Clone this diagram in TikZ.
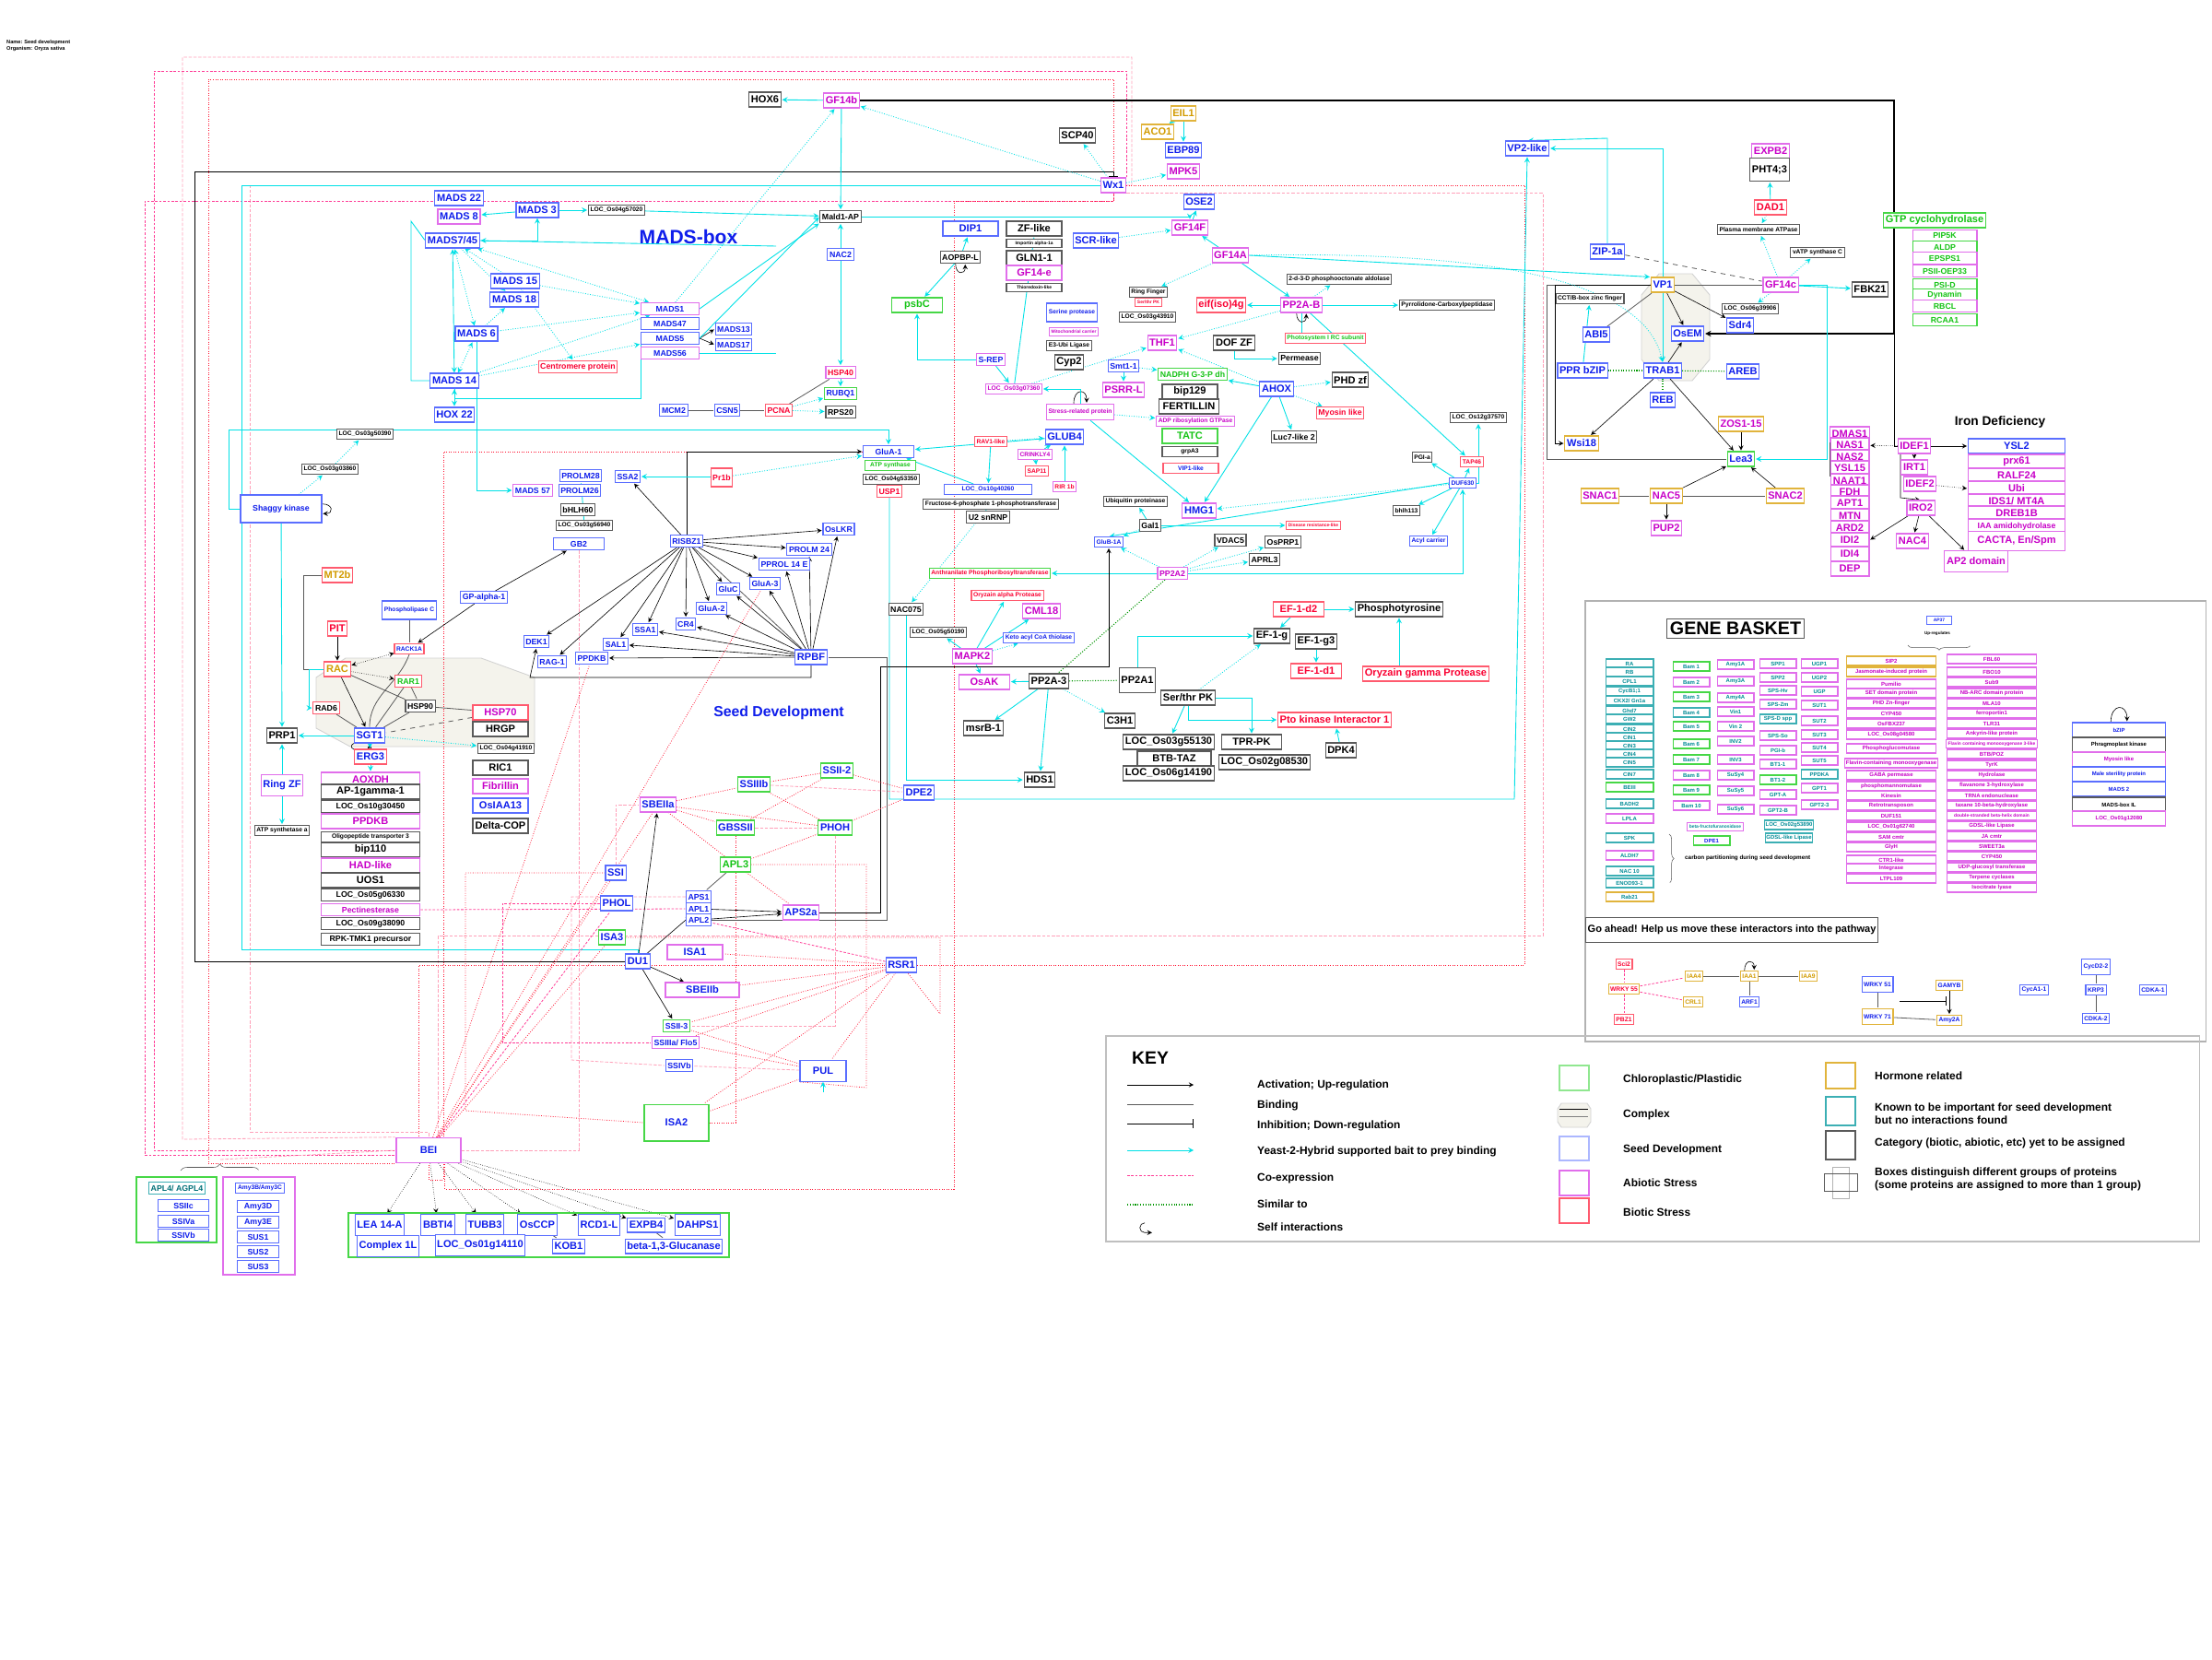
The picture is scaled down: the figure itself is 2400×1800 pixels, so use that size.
\documentclass[tikz,border=0pt]{standalone}
\usepackage{fontspec}
\setmainfont{Liberation Sans}
\usetikzlibrary{positioning,decorations.pathreplacing}
\pgfdeclarelayer{bg}
\pgfsetlayers{bg,main}
\definecolor{sdt}{RGB}{15,30,235}
\definecolor{sdb}{RGB}{90,110,255}
\definecolor{abt}{RGB}{200,0,200}
\definecolor{abb}{RGB}{225,110,235}
\definecolor{bit}{RGB}{250,0,50}
\definecolor{bib}{RGB}{255,90,110}
\definecolor{cht}{RGB}{20,195,20}
\definecolor{chb}{RGB}{70,215,70}
\definecolor{hrt}{RGB}{210,155,0}
\definecolor{hrb}{RGB}{225,180,60}
\definecolor{knt}{RGB}{0,140,150}
\definecolor{knb}{RGB}{60,175,180}
\definecolor{ukb}{RGB}{90,90,90}
\definecolor{cyn}{RGB}{0,225,230}
\definecolor{cor}{RGB}{255,20,50}
\definecolor{cop}{RGB}{255,60,150}
\definecolor{col}{RGB}{255,160,185}
\definecolor{grn}{RGB}{0,150,0}
\definecolor{cpx}{RGB}{244,243,236}

\begin{document}
\begin{tikzpicture}[-,>=stealth,shorten >=0.5pt,x=0.02cm,y=-0.02cm,
  box/.style={rectangle,draw,fill=white,inner sep=1.2pt,line width=0.6pt},
  seed/.style={box,draw=sdb,text=sdt},
  abio/.style={box,draw=abb,text=abt},
  bio/.style={box,draw=bib,text=bit},
  chl/.style={box,draw=chb,text=cht},
  horm/.style={box,draw=hrb,text=hrt},
  unk/.style={box,draw=ukb,text=black},
  known/.style={box,draw=knb,text=knt},
  fL/.style={font=\fontsize{6.3}{7}\selectfont\bfseries,minimum height=0.32cm},
  fM/.style={font=\fontsize{5}{6}\selectfont\bfseries,minimum height=0.26cm},
  fS/.style={font=\fontsize{3.8}{4.5}\selectfont\bfseries,minimum height=0.22cm},
  fT/.style={font=\fontsize{2.8}{3.4}\selectfont\bfseries,minimum height=0.18cm},
  gb/.style={font=\fontsize{3.4}{4}\selectfont\bfseries,minimum height=0.2cm,inner sep=0.6pt},
  title/.style={font=\fontsize{#1}{#1}\selectfont\bfseries},
  y2h/.style={->,draw=cyn,line width=0.5pt},
  y2hd/.style={y2h,densely dotted},
  act/.style={->,draw=black,line width=0.35pt},
  inh/.style={-|,draw=black,line width=0.5pt},
  bind/.style={draw=gray!70!black,line width=0.45pt},
  coex/.style={draw=cor,densely dotted,line width=0.45pt},
  coexp/.style={draw=cop,dash pattern=on 1.5pt off 1pt,line width=0.45pt},
  coexl/.style={draw=col,dash pattern=on 2pt off 1pt,line width=0.45pt},
  simil/.style={draw=grn,densely dotted,line width=0.6pt},
  cplx/.style={fill=cpx,draw=gray!35,line width=0.5pt}]

\useasboundingbox (0,0) rectangle (2400,1800);
\begin{pgfonlayer}{bg}
\fill[white] (0,0) rectangle (2400,1800);
% complexes
\fill[cplx] (343,735) -- (375,714) -- (522,714) -- (580,735) -- (580,810) -- (380,810) -- (343,790) -- cycle;
\fill[cplx] (1800,297) -- (1836,297) -- (1855,320) -- (1855,390) -- (1836,413) -- (1800,413) -- (1781,390) -- (1781,320) -- cycle;
\end{pgfonlayer}

\node[anchor=west,align=left,font=\fontsize{3.2}{4}\selectfont\bfseries] (name) at (1,50) {Name: Seed development\\Organism: Oryza sativa};

% MADS-box
\node[title=12,text=sdt] (madstitle) at (747,257) {MADS-box};
\node[seed,fL] (m22) at (498,215) {MADS 22};
\node[seed,fL,draw=abb] (m8) at (498,235) {MADS 8};
\node[seed,fL] (m3) at (583,228) {MADS 3};
\node[unk,fS] (l57020) at (669,228) {LOC\_Os04g57020};
\node[seed,fL,minimum width=1.1cm] (m745) at (491,261) {MADS7/45};
\node[seed,fL] (m15) at (559,305) {MADS 15};
\node[seed,fL] (m18) at (558,325) {MADS 18};
\node[seed,fL] (m6) at (517,362) {MADS 6};
\node[seed,fM,minimum width=1.26cm,draw=abb] (m1) at (727,335) {MADS1};
\node[seed,fM,minimum width=1.26cm] (m47) at (727,351) {MADS47};
\node[seed,fM,minimum width=1.26cm] (m5) at (727,367) {MADS5};
\node[seed,fM,minimum width=1.26cm,draw=abb] (m56) at (727,383) {MADS56};
\node[seed,fM] (m13) at (796,357) {MADS13};
\node[seed,fM] (m17) at (796,374) {MADS17};
\node[bio,fM] (cent) at (627,398) {Centromere protein};
\node[seed,fL] (m14) at (493,413) {MADS 14};
\node[seed,fL] (hox22) at (493,450) {HOX 22};
\node[seed,fM] (mcm2) at (731,445) {MCM2};
\node[seed,fM] (csn5) at (789,445) {CSN5};
\node[bio,fM] (pcna) at (845,445) {PCNA};

% top centre
\node[unk,fL] (hox6) at (830,108) {HOX6};
\node[abio,fL] (gf14b) at (913,109) {GF14b};
\node[unk,fL] (scp40) at (1169,147) {SCP40};
\node[horm,fL] (eil1) at (1284,123) {EIL1};
\node[horm,fL] (aco1) at (1256,143) {ACO1};
\node[seed,fL] (ebp89) at (1284,163) {EBP89};
\node[abio,fL] (mpk5) at (1284,186) {MPK5};
\node[seed,fL,draw=abb] (wx1) at (1208,201) {Wx1};
\node[seed,fL] (ose2) at (1301,219) {OSE2};
\node[unk,fM] (mald) at (912,235) {Mald1-AP};
\node[seed,fM] (nac2) at (912,276) {NAC2};
\node[bio,fM,draw=abb] (hsp40) at (912,404) {HSP40};
\node[seed,fM,draw=chb] (rubq1) at (912,427) {RUBQ1};
\node[unk,fM] (rps20) at (912,447) {RPS20};
\node[seed,fL,minimum width=1.2cm] (dip1) at (1053,248) {DIP1};
\node[unk,fL,minimum width=1.2cm] (zf) at (1122,248) {ZF-like};
\node[unk,fT,minimum width=1.2cm] (impa) at (1122,264) {Importin alpha-1a};
\node[unk,fL,minimum width=1.2cm] (gln) at (1122,280) {GLN1-1};
\node[abio,fL,minimum width=1.2cm] (gf14e) at (1122,296) {GF14-e};
\node[unk,fT,minimum width=1.2cm] (thio) at (1122,312) {Thioredoxin-like};
\node[seed,fL] (scr) at (1189,261) {SCR-like};
\node[abio,fL] (gf14f) at (1291,247) {GF14F};
\node[unk,fM] (aopbp) at (1042,279) {AOPBP-L};
\node[abio,fL] (gf14a) at (1335,277) {GF14A};
\node[unk,fS] (kdo) at (1453,303) {2-d-3-D phosphooctonate aldolase};
\node[unk,fS] (ringf) at (1246,317) {Ring Finger};
\node[bio,fT] (stpk) at (1246,328) {Ser/thr PK};
\node[unk,fS] (l43910) at (1245,344) {LOC\_Os03g43910};
\node[bio,fL] (eif) at (1325,331) {eif(iso)4g};
\node[abio,fL] (pp2ab) at (1412,331) {PP2A-B};
\node[unk,fS] (pyr) at (1570,331) {Pyrrolidone-Carboxylpeptidase};
\node[chl,fL,minimum width=1.1cm] (psbc) at (995,331) {psbC};
\node[seed,fS,minimum height=0.4cm] (serp) at (1163,339) {Serine protease};
\node[abio,fT] (mito) at (1165,360) {Mitochondrial carrier};
\node[unk,fS] (e3) at (1160,375) {E3-Ubi Ligase};
\node[abio,fL] (thf1) at (1261,372) {THF1};
\node[unk,fL] (dof) at (1339,372) {DOF ZF};
\node[chl,fS,draw=bib] (psi) at (1438,367) {Photosystem I RC subunit};
\node[unk,fM] (perm) at (1410,389) {Permease};
\node[seed,fM,draw=abb] (srep) at (1075,390) {S-REP};
\node[unk,fL] (cyp2) at (1160,393) {Cyp2};
\node[seed,fM] (smt) at (1219,397) {Smt1-1};
\node[chl,fM] (nadph) at (1294,406) {NADPH G-3-P dh};
\node[unk,fL,minimum width=1.2cm] (bip129) at (1291,425) {bip129};
\node[seed,fL] (ahox) at (1385,422) {AHOX};
\node[unk,fL] (phdzf) at (1465,412) {PHD zf};
\node[abio,fS] (l07360) at (1100,422) {LOC\_Os03g07360};
\node[abio,fL] (psrr) at (1219,423) {PSRR-L};
\node[unk,fL,minimum width=1.3cm] (fert) at (1290,441) {FERTILLIN};
\node[abio,fS,minimum height=0.35cm] (stress) at (1172,447) {Stress-related protein};
\node[abio,fS] (adp) at (1297,457) {ADP ribosylation GTPase};
\node[bio,fM] (myo) at (1454,448) {Myosin like};
\node[unk,fS] (l37570) at (1604,453) {LOC\_Os12g37570};
\node[seed,fL] (glub4) at (1155,474) {GLUB4};
\node[bio,fS] (rav1) at (1075,479) {RAV1-like};
\node[chl,fL,minimum width=1.2cm] (tatc) at (1291,473) {TATC};
\node[unk,fM] (luc7) at (1404,474) {Luc7-like 2};
\node[seed,fM,minimum width=1.1cm] (glua1) at (964,490) {GluA-1};
\node[abio,fS] (crinkly) at (1123,493) {CRINKLY4};
\node[unk,fS,minimum width=1.2cm] (grpa3) at (1291,490) {grpA3};
\node[unk,fS] (pgia) at (1543,496) {PGI-a};
\node[bio,fS] (tap46) at (1597,501) {TAP46};
\node[chl,fS,minimum width=1.1cm] (atps) at (966,505) {ATP synthase};
\node[bio,fS] (sap11) at (1125,511) {SAP11};
\node[seed,fS,minimum width=1.2cm,draw=bib] (vip1) at (1292,508) {VIP1-like};
\node[unk,fS] (l53350) at (967,520) {LOC\_Os04g53350};
\node[seed,fS] (duf630) at (1587,524) {DUF630};
\node[seed,fS,minimum width=1.9cm] (l40260) at (1072,531) {LOC\_Os10g40260};
\node[bio,fS,draw=abb] (rir1b) at (1155,528) {RIR 1b};
\node[bio,fM] (usp1) at (965,533) {USP1};
\node[unk,fS] (fru) at (1075,547) {Fructose-6-phosphate 1-phosphotransferase};
\node[unk,fS] (ubiq) at (1232,544) {Ubiquitin proteinase};
\node[seed,fL,draw=abb] (hmg1) at (1301,554) {HMG1};
\node[unk,fS] (bhlh113) at (1526,554) {bhlh113};
\node[unk,fM] (u2) at (1072,561) {U2 snRNP};
\node[unk,fM] (gal1) at (1248,570) {Gal1};
\node[bio,fT] (disr) at (1425,570) {Disease resistance-like};
\node[seed,fS] (glub1a) at (1203,588) {GluB-1A};
\node[unk,fM] (vdac5) at (1335,586) {VDAC5};
\node[unk,fM] (osprp1) at (1392,588) {OsPRP1};
\node[seed,fS] (acyl) at (1550,587) {Acyl carrier};
\node[unk,fM] (aprl3) at (1372,607) {APRL3};
\node[bio,fS,draw=chb] (anth) at (1074,622) {Anthranilate Phosphoribosyltransferase};
\node[abio,fM] (pp2a2) at (1272,622) {PP2A2};
\node[bio,fS] (oryza) at (1093,646) {Oryzain alpha Protease};
\node[unk,fM] (nac075) at (983,661) {NAC075};
\node[abio,fL] (cml18) at (1130,663) {CML18};
\node[bio,fL,minimum width=1.1cm] (efd2) at (1409,661) {EF-1-d2};
\node[unk,fL] (ptyr) at (1518,661) {Phosphotyrosine};
\node[unk,fS] (l50190) at (1018,686) {LOC\_Os05g50190};
\node[unk,fL] (efg) at (1380,690) {EF-1-g};
\node[seed,fS] (keto) at (1127,692) {Keto acyl CoA thiolase};
\node[unk,fL] (efg3) at (1428,696) {EF-1-g3};
\node[abio,fL] (mapk2) at (1055,712) {MAPK2};
\node[bio,fL,minimum width=1.1cm] (efd1) at (1428,728) {EF-1-d1};
\node[bio,fL] (oryg) at (1547,731) {Oryzain gamma Protease};
\node[abio,fL,minimum width=1.1cm] (osak) at (1068,740) {OsAK};
\node[unk,fL] (pp2a3) at (1138,739) {PP2A-3};
\node[unk,fL,minimum height=0.55cm] (pp2a1) at (1234,738) {PP2A1};
\node[unk,fL] (stpk2) at (1289,757) {Ser/thr PK};
\node[bio,fL] (pto) at (1448,781) {Pto kinase Interactor 1};
\node[unk,fL] (c3h1) at (1215,782) {C3H1};
\node[unk,fL] (msrb) at (1067,790) {msrB-1};
\node[unk,fL] (l55130) at (1268,805) {LOC\_Os03g55130};
\node[unk,fL,minimum width=1.3cm] (tpr) at (1358,805) {TPR-PK};
\node[unk,fL] (dpk4) at (1455,814) {DPK4};
\node[unk,fL,minimum width=1.6cm] (btb) at (1274,823) {BTB-TAZ};
\node[unk,fL] (l08530) at (1372,827) {LOC\_Os02g08530};
\node[unk,fL] (l14190) at (1268,839) {LOC\_Os06g14190};
\node[unk,fL] (hds1) at (1128,846) {HDS1};

% left
\node[unk,fS] (l50390) at (396,471) {LOC\_Os03g50390};
\node[unk,fS] (l03860) at (358,509) {LOC\_Os03g03860};
\node[seed,fM,minimum width=1.76cm,minimum height=0.6cm] (shaggy) at (305,552) {Shaggy kinase};
\node[seed,fM] (prolm28) at (630,516) {PROLM28};
\node[seed,fM] (ssa2) at (681,517) {SSA2};
\node[seed,fM,draw=abb] (mads57) at (578,532) {MADS 57};
\node[seed,fM] (prolm26) at (629,532) {PROLM26};
\node[unk,fM] (bhlh60) at (627,553) {bHLH60};
\node[unk,fS] (l56940) at (634,570) {LOC\_Os03g56940};
\node[seed,fM,minimum width=1.1cm] (gb2) at (628,590) {GB2};
\node[bio,fM,minimum height=0.4cm] (pr1b) at (783,518) {Pr1b};
\node[seed,fM] (risbz) at (745,587) {RISBZ1};
\node[seed,fM] (oslkr) at (910,574) {OsLKR};
\node[seed,fM] (prolm24) at (878,596) {PROLM 24};
\node[seed,fM] (pprol) at (851,612) {PPROL 14 E};
\node[horm,fL,draw=bib] (mt2b) at (366,624) {MT2b};
\node[seed,fM] (glua3) at (830,633) {GluA-3};
\node[seed,fM] (gluc) at (790,639) {GluC};
\node[seed,fM] (gpa1) at (525,648) {GP-alpha-1};
\node[seed,fM] (glua2) at (772,660) {GluA-2};
\node[seed,fS,minimum height=0.4cm] (phosc) at (444,662) {Phospholipase C};
\node[seed,fM] (cr4) at (744,677) {CR4};
\node[bio,fL] (pit) at (366,682) {PIT};
\node[seed,fM] (ssa1) at (700,683) {SSA1};
\node[seed,fM] (dek1) at (582,696) {DEK1};
\node[seed,fM] (sal1) at (668,699) {SAL1};
\node[seed,fS,draw=bib] (rack) at (444,704) {RACK1A};
\node[seed,fL] (rpbf) at (880,713) {RPBF};
\node[seed,fM] (rag1) at (599,718) {RAG-1};
\node[seed,fM] (ppdkb1) at (642,714) {PPDKB};
\node[horm,fL,draw=bib] (rac) at (366,726) {RAC};
\node[chl,fM,draw=bib] (rar1) at (443,739) {RAR1};
\node[unk,fM,draw=bib] (rad6) at (354,768) {RAD6};
\node[unk,fM] (hsp90) at (456,766) {HSP90};
\node[abio,fL,draw=bib,minimum width=1.2cm] (hsp70) at (543,773) {HSP70};
\node[title=9,text=sdt] (sdtitle) at (845,773) {Seed Development};
\node[unk,fL,minimum width=1.2cm] (hrgp) at (543,791) {HRGP};
\node[unk,fL] (prp1) at (306,798) {PRP1};
\node[seed,fL] (sgt1) at (401,798) {SGT1};
\node[unk,fS] (l41910) at (549,812) {LOC\_Os04g41910};
\node[seed,fL,draw=bib] (erg3) at (402,821) {ERG3};
\node[unk,fL,minimum width=1.2cm] (ric1) at (543,833) {RIC1};
\node[abio,fL,minimum width=2.15cm] (aoxdh) at (402,846) {AOXDH};
\node[abio,fL,minimum width=1.2cm] (fib) at (543,853) {Fibrillin};
\node[seed,fL,draw=abb,minimum height=0.45cm] (ringzf) at (306,852) {Ring ZF};
\node[unk,fL,minimum width=2.15cm] (ap1) at (402,859) {AP-1gamma-1};
\node[seed,fL,minimum width=1.2cm] (osiaa) at (543,874) {OsIAA13};
\node[unk,fM,minimum width=2.15cm] (l30450) at (402,875) {LOC\_Os10g30450};
\node[abio,fL,minimum width=2.15cm] (ppdkb2) at (402,891) {PPDKB};
\node[unk,fL,minimum width=1.2cm] (dcop) at (543,896) {Delta-COP};
\node[unk,fS] (atpa) at (306,901) {ATP synthetase a};
\node[unk,fS,minimum width=2.15cm] (oligo) at (402,908) {Oligopeptide transporter 3};
\node[unk,fL,minimum width=2.15cm] (bip110) at (402,922) {bip110};
\node[abio,fL,minimum width=2.15cm] (had) at (402,939) {HAD-like};
\node[unk,fL,minimum width=2.15cm] (uos1) at (402,955) {UOS1};
\node[unk,fM,minimum width=2.15cm] (l06330) at (402,971) {LOC\_Os05g06330};
\node[abio,fM,minimum width=2.15cm] (pect) at (402,987) {Pectinesterase};
\node[unk,fM,minimum width=2.15cm] (l38090) at (402,1002) {LOC\_Os09g38090};
\node[unk,fM,minimum width=2.15cm] (rpk) at (402,1019) {RPK-TMK1 precursor};

% starch
\node[seed,fL,draw=chb] (ssii2) at (908,836) {SSII-2};
\node[seed,fL,draw=chb] (ssiiib) at (818,851) {SSIIIb};
\node[seed,fL] (dpe2) at (997,860) {DPE2};
\node[seed,fL,draw=abb] (sbeiia) at (714,873) {SBEIIa};
\node[seed,fL,draw=chb] (gbssii) at (798,898) {GBSSII};
\node[seed,fL,draw=chb] (phoh) at (906,898) {PHOH};
\node[chl,fL] (apl3) at (798,938) {APL3};
\node[seed,fL] (ssi) at (668,947) {SSI};
\node[seed,fM] (aps1) at (758,973) {APS1};
\node[seed,fL] (phol) at (669,980) {PHOL};
\node[seed,fM] (apl1) at (758,986) {APL1};
\node[seed,fL,draw=abb] (aps2a) at (869,990) {APS2a};
\node[seed,fM] (apl2) at (758,998) {APL2};
\node[seed,fL,draw=chb] (isa3) at (664,1017) {ISA3};
\node[seed,fL,draw=abb,minimum width=1.2cm] (isa1) at (754,1033) {ISA1};
\node[seed,fL] (du1) at (692,1043) {DU1};
\node[seed,fL] (rsr1) at (978,1047) {RSR1};
\node[seed,fL,draw=abb,minimum width=1.6cm] (sbeiib) at (762,1074) {SBEIIb};
\node[seed,fM,draw=chb] (ssii3) at (734,1113) {SSII-3};
\node[seed,fM,draw=abb] (ssiiia) at (733,1131) {SSIIIa/ Flo5};
\node[seed,fM] (ssivb) at (737,1156) {SSIVb};
\node[seed,fL,minimum width=1.0cm,minimum height=0.45cm] (pul) at (893,1162) {PUL};
\node[seed,fL,draw=chb,minimum width=1.4cm,minimum height=0.8cm] (isa2) at (734,1218) {ISA2};
\node[seed,fL,draw=abb,minimum width=1.4cm,minimum height=0.55cm] (bei) at (465,1248) {BEI};

% bottom left groups
\draw[chb,line width=0.6pt] (148,1277) rectangle (235,1348);
\draw[abb,line width=0.6pt] (242,1277) rectangle (320,1383);
\draw[chb,line width=0.6pt] (378,1316) rectangle (791,1364);
\node[known,fM,text=knt!80!black] (apl4) at (192,1289) {APL4/ AGPL4};
\node[seed,fM,minimum width=1.1cm] (ssiic) at (199,1308) {SSIIc};
\node[seed,fM,minimum width=1.1cm] (ssiva) at (199,1325) {SSIVa};
\node[seed,fM,minimum width=1.1cm] (ssivb2) at (199,1340) {SSIVb};
\node[seed,fS] (amy3b) at (282,1289) {Amy3B/Amy3C};
\node[seed,fM,minimum width=0.9cm] (amy3d) at (280,1309) {Amy3D};
\node[seed,fM,minimum width=0.9cm] (amy3e) at (280,1326) {Amy3E};
\node[seed,fM,minimum width=0.9cm] (sus1) at (280,1342) {SUS1};
\node[seed,fM,minimum width=0.9cm] (sus2) at (280,1358) {SUS2};
\node[seed,fM,minimum width=0.9cm] (sus3) at (280,1374) {SUS3};
\node[seed,fL,minimum height=0.45cm] (lea14) at (412,1329) {LEA 14-A};
\node[seed,fL,minimum height=0.45cm] (bbti4) at (475,1329) {BBTI4};
\node[seed,fL,minimum height=0.45cm] (tubb3) at (526,1329) {TUBB3};
\node[seed,fL,minimum height=0.45cm] (osccp) at (583,1329) {OsCCP};
\node[seed,fL,minimum height=0.45cm] (rcd1) at (650,1329) {RCD1-L};
\node[seed,fL] (expb4) at (701,1329) {EXPB4};
\node[seed,fL,minimum height=0.45cm] (dahps1) at (757,1329) {DAHPS1};
\node[seed,fL,minimum height=0.45cm] (cplx1l) at (421,1352) {Complex 1L};
\node[seed,fL,minimum height=0.45cm] (l14110) at (521,1351) {LOC\_Os01g14110};
\node[seed,fL] (kob1) at (617,1352) {KOB1};
\node[seed,fL] (glucan) at (731,1352) {beta-1,3-Glucanase};

% right
\node[seed,fL] (vp2) at (1657,161) {VP2-like};
\node[abio,fL] (expb2) at (1921,164) {EXPB2};
\node[unk,fL,minimum height=0.5cm] (pht) at (1920,184) {PHT4;3};
\node[bio,fL] (dad1) at (1921,225) {DAD1};
\node[unk,fS] (pmatp) at (1908,249) {Plasma membrane ATPase};
\node[chl,fL] (gtp) at (2099,239) {GTP cyclohydrolase};
\node[chl,fM,minimum width=1.4cm,draw=abb] (pip5k) at (2110,256) {PIP5K};
\node[chl,fM,minimum width=1.4cm] (aldp) at (2110,268) {ALDP};
\node[chl,fM,minimum width=1.4cm,draw=abb] (epsps) at (2110,280) {EPSPS1};
\node[chl,fM,minimum width=1.4cm,draw=abb] (psii) at (2110,294) {PSII-OEP33};
\node[chl,fM,minimum width=1.4cm] (psid) at (2110,309) {PSI-D};
\node[chl,fM,minimum width=1.4cm] (dyn) at (2110,320) {Dynamin};
\node[chl,fM,minimum width=1.4cm,draw=abb] (rbcl) at (2110,332) {RBCL};
\node[chl,fM,minimum width=1.4cm] (rcaa) at (2110,347) {RCAA1};
\node[unk,fS] (vatp) at (1972,274) {vATP synthase C};
\node[seed,fL] (zip) at (1744,273) {ZIP-1a};
\node[seed,fL,draw=hrb] (vp1) at (1804,309) {VP1};
\node[abio,fL] (gf14c) at (1932,309) {GF14c};
\node[unk,fL] (fbk21) at (2029,314) {FBK21};
\node[unk,fS] (cct) at (1725,324) {CCT/B-box zinc finger};
\node[unk,fS] (l39906) at (1899,335) {LOC\_Os06g39906};
\node[seed,fL] (sdr4) at (1888,353) {Sdr4};
\node[seed,fL] (abi5) at (1732,363) {ABI5};
\node[seed,fL] (osem) at (1831,362) {OsEM};
\node[seed,fL] (pprbzip) at (1717,402) {PPR bZIP};
\node[seed,fL] (trab1) at (1804,402) {TRAB1};
\node[seed,fL] (areb) at (1891,403) {AREB};
\node[seed,fL] (reb) at (1804,434) {REB};
\node[title=7.8] (irontitle) at (2170,458) {Iron Deficiency};
\node[abio,fL,draw=hrb] (zos) at (1889,460) {ZOS1-15};
\node[seed,fL,draw=hrb] (wsi18) at (1716,481) {Wsi18};
\node[seed,fL,draw=chb] (lea3) at (1889,498) {Lea3};
\node[abio,fL,draw=hrb] (snac1) at (1736,538) {SNAC1};
\node[abio,fL,draw=hrb] (nac5) at (1808,538) {NAC5};
\node[abio,fL,draw=hrb] (snac2) at (1937,538) {SNAC2};
\node[abio,fL] (pup2) at (1808,573) {PUP2};
\node[abio,fL,minimum width=0.84cm] (dmas1) at (2007,471) {DMAS1};
\node[abio,fL,minimum width=0.84cm] (nas1) at (2007,483) {NAS1};
\node[abio,fL,minimum width=0.84cm] (nas2) at (2007,496) {NAS2};
\node[abio,fL,minimum width=0.84cm] (ysl15) at (2007,508) {YSL15};
\node[abio,fL,minimum width=0.84cm] (naat1) at (2007,522) {NAAT1};
\node[abio,fL,minimum width=0.84cm] (fdh) at (2007,534) {FDH};
\node[abio,fL,minimum width=0.84cm] (apt1) at (2007,546) {APT1};
\node[abio,fL,minimum width=0.84cm] (mtn) at (2007,560) {MTN};
\node[abio,fL,minimum width=0.84cm] (ard2) at (2007,573) {ARD2};
\node[abio,fL,minimum width=0.84cm] (idi2) at (2007,586) {IDI2};
\node[abio,fL,minimum width=0.84cm] (idi4) at (2007,601) {IDI4};
\node[abio,fL,minimum width=0.84cm] (dep) at (2007,617) {DEP};
\node[abio,fL] (idef1) at (2077,484) {IDEF1};
\node[abio,fL] (irt1) at (2077,507) {IRT1};
\node[abio,fL] (idef2) at (2083,525) {IDEF2};
\node[abio,fL] (iro2) at (2084,551) {IRO2};
\node[abio,fL] (nac4) at (2075,587) {NAC4};
\node[abio,fL,minimum height=0.45cm] (ap2) at (2144,609) {AP2 domain};
\node[seed,fL,minimum width=2.1cm] (ysl2) at (2188,484) {YSL2};
\node[abio,fL,minimum width=2.1cm] (prx61) at (2188,501) {prx61};
\node[abio,fL,minimum width=2.1cm] (ralf24) at (2188,516) {RALF24};
\node[abio,fL,minimum width=2.1cm] (ubi) at (2188,530) {Ubi};
\node[abio,fL,minimum width=2.1cm] (ids1) at (2188,544) {IDS1/ MT4A};
\node[abio,fL,minimum width=2.1cm] (dreb) at (2188,557) {DREB1B};
\node[abio,fM,minimum width=2.1cm,minimum height=0.32cm] (iaaamid) at (2188,571) {IAA amidohydrolase};
\node[abio,fL,minimum width=2.1cm,minimum height=0.42cm] (cacta) at (2188,587) {CACTA, En/Spm};

% gene basket
\draw[gray!60,line width=0.6pt] (1720,652) rectangle (2393,1130);
\node[unk,title=11.2,inner sep=2pt] (gbtitle) at (1883,682) {GENE BASKET};
\node[seed,fT,minimum width=0.55cm] (ap37) at (2104,673) {AP37};
\node[font=\fontsize{2.6}{3}\selectfont\bfseries] (upreg) at (2102,687) {Up-regulates};
\draw[decorate,decoration={brace,amplitude=3pt,mirror},gray!70!black,line width=0.3pt] (2070,700) -- (2138,700);
\node[known,gb,minimum width=1.04cm] (b1) at (1768,720) {RA};
\node[known,gb,minimum width=1.04cm] (b2) at (1768,729) {RB};
\node[known,gb,minimum width=1.04cm] (b3) at (1768,739) {CPL1};
\node[known,gb,minimum width=1.04cm] (b4) at (1768,750) {CycB1;1};
\node[known,gb,minimum width=1.04cm] (b5) at (1768,760) {CKX2/ Gn1a};
\node[known,gb,minimum width=1.04cm] (b6) at (1768,771) {Ghd7};
\node[known,gb,minimum width=1.04cm] (b7) at (1768,780) {GW2};
\node[known,gb,minimum width=1.04cm] (b8) at (1768,791) {CIN2};
\node[known,gb,minimum width=1.04cm] (b9) at (1768,800) {CIN1};
\node[known,gb,minimum width=1.04cm] (b10) at (1768,809) {CIN3};
\node[known,gb,minimum width=1.04cm] (b11) at (1768,818) {CIN4};
\node[known,gb,minimum width=1.04cm] (b12) at (1768,827) {CIN5};
\node[known,gb,minimum width=1.04cm] (b13) at (1768,840) {CIN7};
\node[known,gb,minimum width=1.04cm,draw=chb] (b14) at (1768,854) {BEIII};
\node[known,gb,minimum width=1.04cm] (b15) at (1768,872) {BADH2};
\node[known,gb,minimum width=1.04cm,draw=abb] (b16) at (1768,888) {LPLA};
\node[known,gb,minimum width=1.04cm] (b17) at (1768,909) {SPK};
\node[known,gb,minimum width=1.04cm,draw=abb] (b18) at (1768,928) {ALDH7};
\node[known,gb,minimum width=1.04cm] (b19) at (1768,945) {NAC 10};
\node[known,gb,minimum width=1.04cm] (b20) at (1768,958) {ENOD93-1};
\node[known,gb,minimum width=1.04cm,draw=hrb] (b21) at (1768,973) {Rab21};
\node[known,gb,minimum width=0.8cm,draw=chb] (c1) at (1835,723) {Bam 1};
\node[known,gb,minimum width=0.8cm,draw=abb] (c2) at (1835,740) {Bam 2};
\node[known,gb,minimum width=0.8cm,draw=chb] (c3) at (1835,756) {Bam 3};
\node[known,gb,minimum width=0.8cm] (c4) at (1835,773) {Bam 4};
\node[known,gb,minimum width=0.8cm,draw=chb] (c5) at (1835,788) {Bam 5};
\node[known,gb,minimum width=0.8cm,draw=chb] (c6) at (1835,807) {Bam 6};
\node[known,gb,minimum width=0.8cm,draw=chb] (c7) at (1835,824) {Bam 7};
\node[known,gb,minimum width=0.8cm,draw=abb] (c8) at (1835,841) {Bam 8};
\node[known,gb,minimum width=0.8cm,draw=chb] (c9) at (1835,857) {Bam 9};
\node[known,gb,minimum width=0.8cm,draw=abb] (c10) at (1835,874) {Bam 10};
\node[known,gb,minimum width=0.8cm,draw=abb] (d1) at (1883,721) {Amy1A};
\node[known,gb,minimum width=0.8cm,draw=abb] (d2) at (1883,739) {Amy3A};
\node[known,gb,minimum width=0.8cm,draw=abb] (d3) at (1883,757) {Amy4A};
\node[known,gb,minimum width=0.8cm,draw=abb] (d4) at (1883,772) {Vin1};
\node[known,gb,minimum width=0.8cm,draw=abb] (d5) at (1883,788) {Vin 2};
\node[known,gb,minimum width=0.8cm,draw=abb] (d6) at (1883,804) {INV2};
\node[known,gb,minimum width=0.8cm,draw=abb] (d7) at (1883,824) {INV3};
\node[known,gb,minimum width=0.8cm,draw=abb] (d8) at (1883,841) {SuSy4};
\node[known,gb,minimum width=0.8cm,draw=abb] (d9) at (1883,858) {SuSy5};
\node[known,gb,minimum width=0.8cm,draw=abb] (d10) at (1883,878) {SuSy6};
\node[known,gb,minimum width=0.8cm,draw=abb] (e1) at (1929,720) {SPP1};
\node[known,gb,minimum width=0.8cm,draw=abb] (e2) at (1929,735) {SPP2};
\node[known,gb,minimum width=0.8cm,draw=abb] (e3) at (1929,749) {SPS-Hv};
\node[known,gb,minimum width=0.8cm,draw=abb] (e4) at (1929,764) {SPS-Zm};
\node[known,gb,minimum width=0.8cm] (e5) at (1929,780) {SPS-D spp};
\node[known,gb,minimum width=0.8cm,draw=abb] (e6) at (1929,798) {SPS-So};
\node[known,gb,minimum width=0.8cm,draw=abb] (e7) at (1929,814) {PGI-b};
\node[known,gb,minimum width=0.8cm,draw=abb] (e8) at (1929,829) {BT1-1};
\node[known,gb,minimum width=0.8cm,draw=chb] (e9) at (1929,846) {BT1-2};
\node[known,gb,minimum width=0.8cm,draw=abb] (e10) at (1929,862) {GPT-A};
\node[known,gb,minimum width=0.8cm,draw=abb] (e11) at (1929,879) {GPT2-B};
\node[known,gb,minimum width=0.8cm,draw=abb] (f1) at (1974,720) {UGP1};
\node[known,gb,minimum width=0.8cm,draw=abb] (f2) at (1974,735) {UGP2};
\node[known,gb,minimum width=0.8cm,draw=abb] (f3) at (1974,750) {UGP};
\node[known,gb,minimum width=0.8cm,draw=abb] (f4) at (1974,765) {SUT1};
\node[known,gb,minimum width=0.8cm,draw=abb] (f5) at (1974,782) {SUT2};
\node[known,gb,minimum width=0.8cm,draw=abb] (f6) at (1974,797) {SUT3};
\node[known,gb,minimum width=0.8cm,draw=abb] (f7) at (1974,811) {SUT4};
\node[known,gb,minimum width=0.8cm,draw=abb] (f8) at (1974,825) {SUT5};
\node[known,gb,minimum width=0.8cm] (f9) at (1974,840) {PPDKA};
\node[known,gb,minimum width=0.8cm,draw=abb] (f10) at (1974,855) {GPT1};
\node[known,gb,minimum width=0.8cm,draw=abb] (f11) at (1974,873) {GPT2-3};
\node[known,fT,draw=abb] (bfruc) at (1861,897) {beta-fructofuranosidase};
\node[seed,gb,minimum width=0.8cm,draw=chb] (dpe1) at (1857,912) {DPE1};
\node[known,gb] (l53890) at (1941,895) {LOC\_Os02g53890};
\node[known,gb] (gdsl1) at (1941,909) {GDSL-like Lipase};
\draw[decorate,decoration={brace,amplitude=3pt},gray!70!black,line width=0.3pt] (1811,905) -- (1811,958);
\node[font=\fontsize{3.6}{4}\selectfont\bfseries,anchor=west] (carbon) at (1822,931) {carbon partitioning during seed development};
\node[abio,gb,minimum width=1.94cm,draw=hrb] (g1) at (2052,717) {SIP2};
\node[abio,gb,minimum width=1.94cm,draw=hrb] (g2) at (2052,729) {Jasmonate-induced protein};
\node[abio,gb,minimum width=1.94cm] (g3) at (2052,742) {Pumilio};
\node[abio,gb,minimum width=1.94cm] (g4) at (2052,752) {SET domain protein};
\node[abio,gb,minimum width=1.94cm] (g5) at (2052,763) {PHD Zn-finger};
\node[abio,gb,minimum width=1.94cm] (g6) at (2052,774) {CYP450};
\node[abio,gb,minimum width=1.94cm] (g7) at (2052,785) {OsFBX237};
\node[abio,gb,minimum width=1.94cm] (g8) at (2052,797) {LOC\_Os08g04580};
\node[abio,gb,minimum width=1.94cm] (g9) at (2052,812) {Phosphoglucomutase};
\node[abio,gb,minimum width=1.94cm] (g10) at (2052,828) {Flavin-containing monooxygenase};
\node[abio,gb,minimum width=1.94cm] (g11) at (2052,841) {GABA permease};
\node[abio,gb,minimum width=1.94cm] (g12) at (2052,853) {phosphomannomutase};
\node[abio,gb,minimum width=1.94cm] (g13) at (2052,863) {Kinesin};
\node[abio,gb,minimum width=1.94cm] (g14) at (2052,874) {Retrotransposon};
\node[abio,gb,minimum width=1.94cm] (g15) at (2052,885) {DUF151};
\node[abio,gb,minimum width=1.94cm] (g16) at (2052,897) {LOC\_Os01g62740};
\node[abio,gb,minimum width=1.94cm] (g17) at (2052,908) {SAM cmtr};
\node[abio,gb,minimum width=1.94cm] (g18) at (2052,919) {GlyH};
\node[abio,gb,minimum width=1.94cm] (g19) at (2052,933) {CTR1-like};
\node[abio,gb,minimum width=1.94cm] (g20) at (2052,942) {Integrase};
\node[abio,gb,minimum width=1.94cm] (g21) at (2052,953) {LTPL109};
\node[abio,gb,minimum width=1.94cm] (h1) at (2161,715) {FBL60};
\node[abio,gb,minimum width=1.94cm] (h2) at (2161,729) {FBO10};
\node[abio,gb,minimum width=1.94cm] (h3) at (2161,740) {Sub9};
\node[abio,gb,minimum width=1.94cm] (h4) at (2161,752) {NB-ARC domain protein};
\node[abio,gb,minimum width=1.94cm] (h5) at (2161,763) {MLA10};
\node[abio,gb,minimum width=1.94cm] (h6) at (2161,774) {ferroportin1};
\node[abio,gb,minimum width=1.94cm] (h7) at (2161,785) {TLR31};
\node[abio,gb,minimum width=1.94cm] (h8) at (2161,796) {Ankyrin-like protein};
\node[abio,fT,minimum width=1.94cm] (h9) at (2161,807) {Flavin containing monooxygenase 3-like};
\node[abio,gb,minimum width=1.94cm] (h10) at (2161,818) {BTB/POZ};
\node[abio,gb,minimum width=1.94cm] (h11) at (2161,830) {TyrK};
\node[abio,gb,minimum width=1.94cm] (h12) at (2161,841) {Hydrolase};
\node[abio,gb,minimum width=1.94cm] (h13) at (2161,852) {flavanone 3-hydroxylase};
\node[abio,gb,minimum width=1.94cm] (h14) at (2161,863) {TRNA endonuclease};
\node[abio,gb,minimum width=1.94cm] (h15) at (2161,874) {taxane 10-beta-hydroxylase};
\node[abio,fT,minimum width=1.94cm] (h16) at (2161,885) {double-stranded beta-helix domain};
\node[abio,gb,minimum width=1.94cm] (h17) at (2161,896) {GDSL-like Lipase};
\node[abio,gb,minimum width=1.94cm] (h18) at (2161,907) {JA cmtr};
\node[abio,gb,minimum width=1.94cm] (h19) at (2161,918) {SWEET3a};
\node[abio,gb,minimum width=1.94cm] (h20) at (2161,929) {CYP450};
\node[abio,gb,minimum width=1.94cm] (h21) at (2161,941) {UDP-glucosyl transferase};
\node[abio,gb,minimum width=1.94cm] (h22) at (2161,952) {Terpene cyclases};
\node[abio,gb,minimum width=1.94cm] (h23) at (2161,963) {Isocitrate lyase};
\node[seed,gb,minimum width=2.02cm,minimum height=0.32cm] (bzip) at (2299,792) {bZIP};
\node[unk,gb,minimum width=2.02cm,minimum height=0.32cm] (phrag) at (2299,808) {Phragmoplast kinase};
\node[abio,gb,minimum width=2.02cm,minimum height=0.32cm] (myo2) at (2299,824) {Myosin like};
\node[seed,gb,minimum width=2.02cm,minimum height=0.32cm] (male) at (2299,840) {Male sterility protein};
\node[seed,gb,minimum width=2.02cm,minimum height=0.32cm] (mads2) at (2299,856) {MADS 2};
\node[unk,gb,minimum width=2.02cm,minimum height=0.32cm] (madsil) at (2299,873) {MADS-box IL};
\node[abio,gb,minimum width=2.02cm,minimum height=0.32cm] (l12080) at (2299,888) {LOC\_Os01g12080};
\node[unk,anchor=west,font=\fontsize{6.3}{7}\selectfont\bfseries,minimum height=0.55cm] (goahead) at (1720,1009) {Go ahead! Help us move these interactors into the pathway};
\node[bio,fS] (sci2) at (1762,1046) {Sci2};
\node[bio,fS,draw=hrb] (wrky55) at (1762,1073) {WRKY 55};
\node[bio,fS] (pbz1) at (1762,1106) {PBZ1};
\node[horm,fS] (iaa4) at (1838,1059) {IAA4};
\node[horm,fS] (iaa1) at (1898,1059) {IAA1};
\node[horm,fS] (iaa9) at (1962,1059) {IAA9};
\node[horm,fS] (crl1) at (1837,1087) {CRL1};
\node[seed,fS] (arf1) at (1898,1087) {ARF1};
\node[seed,fS,minimum height=0.35cm] (wrky51) at (2037,1068) {WRKY 51};
\node[seed,fS,draw=hrb] (gamyb) at (2115,1069) {GAMYB};
\node[seed,fS,minimum height=0.35cm,draw=hrb] (wrky71) at (2037,1103) {WRKY 71};
\node[seed,fS,draw=hrb] (amy2a) at (2115,1107) {Amy2A};
\node[seed,fS] (cyca1) at (2207,1074) {CycA1-1};
\node[seed,fS,minimum height=0.35cm] (cycd2) at (2274,1049) {CycD2-2};
\node[seed,fS] (krp3) at (2274,1074) {KRP3};
\node[seed,fS] (cdka1) at (2336,1074) {CDKA-1};
\node[seed,fS] (cdka2) at (2274,1105) {CDKA-2};
\coordinate (gm1) at (2061,1086);
\coordinate (gm2) at (2113,1086);

% key
\draw[gray!50,line width=0.6pt] (1200,1124) rectangle (2386,1347);
\node[title=11,anchor=west] (keytitle) at (1222,1148) {KEY};
\coordinate (k1a) at (1223,1177); \coordinate (k1b) at (1296,1177);
\coordinate (k2a) at (1223,1198); \coordinate (k2b) at (1296,1198);
\coordinate (k3a) at (1223,1219); \coordinate (k3b) at (1296,1219);
\coordinate (k4a) at (1223,1248); \coordinate (k4b) at (1296,1248);
\coordinate (k5a) at (1223,1275); \coordinate (k5b) at (1296,1275);
\coordinate (k6a) at (1223,1307); \coordinate (k6b) at (1296,1307);
\coordinate (k7) at (1242,1332);
\draw[act] (k1a) -- (k1b);
\draw[bind] (k2a) -- (k2b);
\draw[inh] (k3a) -- (k3b);
\draw[y2h] (k4a) -- (k4b);
\draw[coexp] (k5a) -- (k5b);
\draw[simil] (k6a) -- (k6b);
\draw[act] ([yshift=3pt]k7) arc[start angle=90,end angle=270,radius=3pt] -- ++(5pt,0);
\node[font=\fontsize{6.8}{8}\selectfont\bfseries,anchor=west] (kl1) at (1358,1177) {Activation; Up-regulation};
\node[font=\fontsize{6.8}{8}\selectfont\bfseries,anchor=west] (kl2) at (1358,1199) {Binding};
\node[font=\fontsize{6.8}{8}\selectfont\bfseries,anchor=west] (kl3) at (1358,1221) {Inhibition; Down-regulation};
\node[font=\fontsize{6.8}{8}\selectfont\bfseries,anchor=west] (kl4) at (1358,1249) {Yeast-2-Hybrid supported bait to prey binding};
\node[font=\fontsize{6.8}{8}\selectfont\bfseries,anchor=west] (kl5) at (1358,1278) {Co-expression};
\node[font=\fontsize{6.8}{8}\selectfont\bfseries,anchor=west] (kl6) at (1358,1306) {Similar to};
\node[font=\fontsize{6.8}{8}\selectfont\bfseries,anchor=west] (kl7) at (1358,1331) {Self interactions};
\draw[chb!60,line width=0.6pt] (1692,1156) rectangle (1724,1183);
\fill[cplx] (1694,1197) -- (1722,1197) -- (1726,1203) -- (1726,1217) -- (1722,1223) -- (1694,1223) -- (1690,1217) -- (1690,1203) -- cycle;
\draw[black,line width=0.5pt] (1692,1203) -- (1724,1203);
\draw[gray,line width=0.5pt] (1692,1211) -- (1724,1211);
\draw[sdb!50,line width=0.6pt] (1692,1233) rectangle (1724,1259);
\draw[abb,line width=0.6pt] (1692,1270) rectangle (1724,1297);
\draw[bib,line width=0.6pt] (1692,1300) rectangle (1724,1327);
\node[font=\fontsize{6.8}{8}\selectfont\bfseries,anchor=west] (kl8) at (1755,1171) {Chloroplastic/Plastidic};
\node[font=\fontsize{6.8}{8}\selectfont\bfseries,anchor=west] (kl9) at (1755,1209) {Complex};
\node[font=\fontsize{6.8}{8}\selectfont\bfseries,anchor=west] (kl10) at (1755,1247) {Seed Development};
\node[font=\fontsize{6.8}{8}\selectfont\bfseries,anchor=west] (kl11) at (1755,1283) {Abiotic Stress};
\node[font=\fontsize{6.8}{8}\selectfont\bfseries,anchor=west] (kl12) at (1755,1315) {Biotic Stress};
\draw[hrb,line width=0.6pt] (1981,1153) rectangle (2013,1181);
\draw[knb,line width=0.6pt] (1981,1190) rectangle (2013,1221);
\draw[ukb,line width=0.6pt] (1981,1227) rectangle (2013,1258);
\draw[gray!60,line width=0.5pt] (1988,1266) rectangle (2006,1300);
\draw[ukb,line width=0.5pt] (1979,1273) rectangle (2015,1292);
\node[font=\fontsize{6.8}{8}\selectfont\bfseries,anchor=west] (kl13) at (2028,1167) {Hormone related};
\node[font=\fontsize{6.8}{8}\selectfont\bfseries,anchor=west,align=left] (kl14) at (2028,1208) {Known to be important for seed development\\but no interactions found};
\node[font=\fontsize{6.8}{8}\selectfont\bfseries,anchor=west] (kl15) at (2028,1240) {Category (biotic, abiotic, etc) yet to be assigned};
\node[font=\fontsize{6.8}{8}\selectfont\bfseries,anchor=west,align=left] (kl16) at (2028,1279) {Boxes distinguish different groups of proteins\\(some proteins are assigned to more than 1 group)};

\begin{pgfonlayer}{bg}
% long frames
\draw[coexl] (wx1.east) -| (1228,62) -| (198,1236) -- (bei.north west);
\draw[coexp] (wx1.north east) |- (167,77) |- (bei.west);
\draw[coex] (wx1.north) |- (226,86) |- (bei.south west);
\draw[coexl] (wx1.west) -| (271,1228) -| (bei.north);
\draw[coexp] (wx1.south) |- (157,218) |- ([yshift=-3pt]bei.west);
\draw[coexl] (wx1.south east) -| (1674,1015) -| ([xshift=6pt]bei.north);
\draw[coex] (wx1.east) -| (1654,1047) -| ([xshift=-6pt]bei.north);
\draw[coex] (wx1.south) |- (1035,218) -- (1035,1290) -| ([xshift=10pt]bei.south);
\draw[coex] (glua1.west) -| (481,1280) -| (bei.south);
\draw[inh] (du1.west) -| (211,186) -| (wx1.north);
\draw[y2h,-] (wx1.west) -| (262,1030) -| (du1.north);
\draw[y2h] (usp1.south) |- (1643,867) -- (vp2.south);

% MADS
\draw[y2h] (m3) -- (m8);
\draw[y2h] (m3) -- (l57020);
\draw[y2h] (l57020) -- (mald);
\draw[y2h,<->] (m3) |- (m745);
\draw[y2h] (mald.east) -| (gf14f.north);
\draw[y2hd,<-] (m745) -- (m15);
\draw[y2hd,<->] (m745) -- (m1);
\draw[y2hd] (m15) -- (m1);
\draw[y2hd] (m6) -- (m1);
\draw[y2hd] (m6) -- (m18);
\draw[y2hd] (m14) -- (m1);
\draw[y2hd] (m14) -- (m5);
\draw[y2hd,<->] (m14) -- (m6);
\draw[y2h,<->] (m14) -- (m745);
\draw[y2hd,<->] (m6) -- (m745);
\draw[y2hd] (m745) -- (m18);
\draw[y2hd] (m15) -- (cent);
\draw[y2h] (m14) -- (hox22);
\draw[y2h] (m5.west) -| (695,432) -| (m14.south);
\draw[act] (m5.east) -- (m13.west);
\draw[act] (m5.east) -- (m17.west);
\draw[y2h] (m5.east) -- (mald.west);
\draw[y2h] (m1.east) -- (mald.south west);
\draw[y2hd] (m1) -- (gf14b);
\draw[y2h,-] (m14.west) -| (446,240) -- (m745.west);
\draw[y2h] (m6) |- (mads57);
\draw[y2h,-] (m745.east) -- (843,267);
\draw[y2h,-] (m56.east) -- (843,383);
\draw[bind] (mcm2) -- (csn5);
\draw[bind] (csn5) -- (pcna);
\draw[bind] (pcna) -- (hsp40);
\draw[y2hd] (pcna) -- (rubq1);
\draw[y2hd] (pcna) -- (rps20);

% top centre
\draw[y2h] (gf14b) -- (hox6);
\draw[y2h] (gf14b) -- (mald);
\draw[y2h] (nac2) -- (mald);
\draw[y2h] (nac2) -- (hsp40);
\draw[y2h] (hsp40) -- (rubq1);
\draw[y2hd] (wx1) -- (gf14b);
\draw[y2hd] (wx1) -- (scp40);
\draw[y2hd] (wx1) -- (mpk5);
\draw[y2h] (eil1) -- (aco1);
\draw[y2h] (eil1) -- (ebp89);
\draw[act,line width=0.6pt] (gf14b.east) -| (2055,362) -- (osem.east);
\draw[black,line width=0.5pt] (idef1.west) -| (2055,362);
\draw[y2hd] (scr) -- (gf14f);
\draw[y2h] (gf14f) -- (ose2);
\draw[y2h] (gf14a) -- (gf14f);
\draw[y2hd] (gf14a) -- (ringf);
\draw[y2h] (gf14a) -- (pp2ab);
\draw[y2hd] (pp2ab) -- (kdo);
\draw[y2h] (pp2ab) -- (eif);
\draw[y2h] (pp2ab) -- (pyr);
\draw[y2hd] (pp2ab) -- (thf1);
\draw[y2h] (pp2ab) |- (psi);
\draw[y2h] (pp2ab) -- (tap46);
\draw[act] ([xshift=-3pt]pp2ab.south) to[out=-90,in=-90,looseness=3] ([xshift=3pt]pp2ab.south);
\draw[y2h] (dof) |- (perm);
\draw[y2hd] (l07360) -- (thf1);
\draw[y2hd] (ahox) -- (thf1);
\draw[y2h] (ahox) -- (nadph);
\draw[y2hd] (ahox) -- (phdzf);
\draw[y2hd] (ahox) -- (myo);
\draw[y2h] (ahox) -- (luc7);
\draw[y2h] (ahox) -- (hmg1);
\draw[y2hd] (smt) -- (nadph);
\draw[y2h] (smt) -- (psrr);
\draw[act] ([xshift=-4pt]stress.north) to[out=90,in=90,looseness=3] ([xshift=4pt]stress.north);
\draw[y2hd] (stress) -- (adp);
\draw[y2h] (stress) -- (hmg1);
\draw[y2h] (stress) |- (l07360);
\draw[y2h] (srep) -- (l07360);
\draw[y2h] (srep) -| (psbc);
\draw[act] ([xshift=-3pt]aopbp.south) to[out=-90,in=-90,looseness=3] ([xshift=3pt]aopbp.south);
\draw[y2h] (aopbp) -- (dip1);
\draw[y2h] (aopbp) -- (psbc);
\draw[y2h] (l07360) -- (zf.south);
\draw[y2hd] (rav1) -- (glub4);
\draw[y2h] (crinkly) -- (glub4);
\draw[y2h] (crinkly) -- (sap11);
\draw[y2h] (rir1b) -- (glub4);
\draw[y2h] (glub4) -- (glua1);
\draw[y2h] (rav1) -- (l40260);
\draw[y2h] (duf630) -- (pgia);
\draw[y2h] (duf630) -- (tap46);
\draw[y2h] (duf630) -| (l37570);
\draw[y2hd] (duf630) -- (hmg1);
\draw[y2h] (duf630) -- (bhlh113);
\draw[y2h] (duf630) -- (acyl);
\draw[y2h] (pp2a2.east) -| (duf630.south);
\draw[y2h] (duf630.west) -- (glub1a.north);
\draw[y2h] (gal1) -- (ubiq);
\draw[y2h] (gal1) -- (disr);
\draw[y2hd] (gal1) -- (glub1a);
\draw[y2hd] (pp2a2) -- (glub1a);
\draw[y2hd] (pp2a2) -- (vdac5);
\draw[y2hd] (pp2a2) -- (osprp1);
\draw[y2hd] (pp2a2) -- (aprl3);
\draw[y2h] (pp2a2) -- (anth);
\draw[simil] (pp2a2) -- (pp2a3);
\draw[simil] (pp2a3) -- (pp2a1);
\draw[y2h] (pp2a3) -- (osak);
\draw[y2h] (pp2a3) -- (msrb);
\draw[y2h] (pp2a3) -- (hds1);
\draw[y2hd] (pp2a3) -- (c3h1);
\draw[y2h] (mapk2) -- (osak);
\draw[y2h] (mapk2) -- (oryza);
\draw[y2h] (mapk2) -- (cml18);
\draw[y2hd] (mapk2) -- (keto);
\draw[y2h] (mapk2) -- (l50190);
\draw[y2hd] (stpk2) -- (efg);
\draw[y2h] (stpk2) -- (l55130);
\draw[y2h] (stpk2) -| (tpr);
\draw[y2h] (stpk2) |- (pto);
\draw[y2h] (dpk4) -- (pto);
\draw[y2h] (pp2a1) |- (efg);
\draw[y2h] (efd2) -- (ptyr);
\draw[y2h] (efd2) -- (efg);
\draw[y2h] (efg3) -- (efd1);
\draw[y2h] (oryg) -| (ptyr);
\draw[y2hd] (fru) -- (nac075);
\draw[y2h] (nac075) |- (hds1);
\draw[act] (aps2a.east) -| (955,723) -| (glub1a.south);
\draw[act] (risbz.north) |- (glua1.west);
\draw[y2hd] (pr1b) -- (glua1);
\draw[y2h] (l40260) -- (glua1);

% left
\draw[y2hd] (shaggy) -- (l03860);
\draw[y2hd] (l03860) -- (l50390);
\draw[act] ([yshift=3pt]shaggy.east) to[out=0,in=0,looseness=3] ([yshift=-3pt]shaggy.east);
\draw[y2h] (shaggy) -- (prp1);
\draw[y2h] (shaggy.west) -| (248,466) -| (glua1.north);
\draw[y2h] (pr1b) |- (ssa2);
\draw[act] (risbz) -- (ssa2);
\draw[act] (risbz) -- (oslkr);
\draw[act] (risbz) -- (prolm24);
\draw[act] (risbz) -- (pprol);
\draw[act] (risbz) -- (glua3);
\draw[act] (risbz) -- (gluc);
\draw[act] (risbz) -- (glua2);
\draw[act] (risbz) -- (cr4);
\draw[act] (risbz) -- (ssa1);
\draw[act] (risbz) -- (sal1);
\draw[act] (risbz) -- (dek1);
\draw[act] (risbz) -- (rag1);
\draw[act] (rpbf) -- (oslkr);
\draw[act] (rpbf) -- (prolm24);
\draw[act] (rpbf) -- (pprol);
\draw[act] (rpbf) -- (glua3);
\draw[act] (rpbf) -- (gluc);
\draw[act] (rpbf) -- (glua2);
\draw[act] (rpbf) -- (cr4);
\draw[act] (rpbf) -- (ssa1);
\draw[act] (rpbf) -- (sal1);
\draw[act] (rpbf) -- (ppdkb1);
\draw[act] (rpbf.south) |- (575,735) -- (dek1.south);
\draw[bind] (risbz) -- (rpbf);
\draw[act] (gpa1) -- (gb2);
\draw[act] (gpa1) -- (rack);
\draw[act,densely dotted,<->] (rack) -- (rac);
\draw[act,densely dotted] (rac) -- (rar1);
\draw[act] (pit) -- (rac);
\draw[bind] (mt2b.west) -| (329,726) -- (rac.west);
\draw[bind] (phosc) -- (rack);
\draw[act] (rac) -- (sgt1);
\draw[bind] (rac) -- (hsp90);
\draw[bind] (rar1) -- (sgt1);
\draw[bind] (rar1) -- (hsp90);
\draw[bind] (hsp90) -- (sgt1);
\draw[bind] (hsp90) -- (hsp70);
\draw[bind,dashed] (hsp70) -- (sgt1);
\draw[bind] (rad6) -- (sgt1);
\draw[bind] (rack.south) to[out=-110,in=90] (sgt1.north);
\draw[act] (sgt1.south west) to[out=-150,in=-90,looseness=2] (sgt1.south);
\draw[y2h] (sgt1) -- (erg3);
\draw[y2h] (sgt1) -- (prp1);
\draw[y2hd] (sgt1) -- (l41910);
\draw[y2h] (erg3) -- (aoxdh);
\draw[y2h] (ringzf) -- (prp1);
\draw[y2h] (ringzf) -- (atpa);
\draw[y2h] (rac.west) -| (335,768) -- (rad6.west);
\draw[y2h] (l56940) -- (prolm28);

% starch
\draw[coex] (sbeiia) -- (ssiiib);
\draw[coex] (sbeiia) -- (gbssii);
\draw[coex] (sbeiia) -- (phoh);
\draw[coex] (sbeiia) -- (apl3);
\draw[coex] (ssiiib) -- (phoh);
\draw[coex] (ssii2) -- (gbssii);
\draw[coex] (ssii2) -- (ssiiib);
\draw[coex] (ssii2) -- (dpe2);
\draw[coex] (phoh) -- (apl3);
\draw[coex] (phoh) -- (dpe2);
\draw[coex] (apl3) -- (aps2a);
\draw[coexl] (gbssii) -- (phoh);
\draw[coexl] (ssiiib) -- (dpe2);
\draw[coex] (rsr1) -- (sbeiib);
\draw[coex] (rsr1) -- (ssii3);
\draw[coex] (rsr1) -- (ssiiia);
\draw[coex] (rsr1) -- (pul);
\draw[coex] (rsr1) -- (isa1);
\draw[coex] (rsr1) -- (isa2);
\draw[coexp] (rsr1) -- (apl2);
\draw[coex] (pul) -- (ssiiia);
\draw[coex] (pul) -- (isa2);
\draw[coex] (pul) -- (ssii3);
\draw[coexl] (pul) -- (ssivb);
\draw[coex] (bei) -- (ssi);
\draw[coex] (bei) -- (sbeiia);
\draw[coex] (bei) -- (isa3);
\draw[coex] (bei) -- (glua3);
\draw[coex] (bei) -- (ppdkb1);
\draw[coexp] (bei) -- (phol);
\draw[coexl] (gb2.south) |- (bei.east);
\draw[coex] (ssi.west) -| (505,1205) -- (isa2.west);
\draw[coexp] (phol.west) -| (545,1131) -- (ssiiia.west);
\draw[coex] (isa3.east) -| (1020,1100) -- (rsr1);
\draw[coexl] (ssi.north) |- (sbeiia.west);
\draw[coex] (gbssii.south) |- (isa2.east);
\draw[coexl] (phoh.south) |- (ssii3.east);
\draw[coexp] (pect.east) -- (apl1.west);
\draw[coexl] (aps1.west) -| (620,1150) -- (ssivb.west);
\draw[coex] (apl3.east) -| (940,1180) -- (pul.south west);
\draw[act] (du1) -- (sbeiia);
\draw[act] (du1) -- (apl1);
\draw[act] (du1) -- (sbeiib);
\draw[act] (du1) -- (ssii3);
\draw[bind] (apl3) -- (aps1);
\draw[act] (apl1) -- (aps2a);
\draw[act] (apl2) -- (aps2a);
\draw[bind] (apl2.east) -| (962,713) -- (rpbf.east);
\draw[y2h,<-] (pul.south) -- ++(0,12);

% BEI interactors
\draw[act,densely dotted] (bei) -- (lea14);
\draw[act,densely dotted] (bei) -- (bbti4);
\draw[act,densely dotted] (bei) -- (tubb3);
\draw[act,densely dotted] (bei) -- (osccp);
\draw[act,densely dotted] (bei) -- (rcd1);
\draw[act,densely dotted] (bei) -- (expb4);
\draw[act,densely dotted] (bei) -- (dahps1);
\draw[bind] (lea14) -- (cplx1l);
\draw[bind] (tubb3) -- (l14110);
\draw[bind] (osccp) -- (kob1);
\draw[bind] (expb4) -- (glucan);
\draw[decorate,decoration={brace,amplitude=4pt},gray!70!black,line width=0.3pt] (196,1270) -- (281,1270);
\draw[coexl] (239,1258) -- (bei.west);

% right
\draw[y2h] (dad1) -- (pht);
\draw[y2hd] (dad1) -- (pmatp);
\draw[y2hd] (gf14c) -- (pmatp);
\draw[y2hd] (gf14c) -- (vatp);
\draw[y2h] (gf14c) -- (fbk21);
\draw[y2hd] (gf14c) -- (l39906);
\draw[bind,dashed] (zip) -- (gf14c);
\draw[bind] (vp1) -- (gf14c);
\draw[act] (vp1) -- (osem);
\draw[act] (vp1) -- (sdr4);
\draw[bind] (abi5) -- (vp1);
\draw[act] (trab1) -- (osem);
\draw[act] (trab1) -- (wsi18);
\draw[act] (trab1) -- (lea3);
\draw[act] (zos) -- (lea3);
\draw[act] (nac5) -- (lea3);
\draw[act] (snac2) -- (lea3);
\draw[bind] (snac1) -- (nac5);
\draw[bind] (nac5) -- (snac2);
\draw[act] (nac5) -- (pup2);
\draw[simil] (pprbzip) -- (trab1);
\draw[simil] (trab1) -- (areb);
\draw[simil] (trab1) -- (reb);
\draw[y2h] (pprbzip) -- (cct);
\draw[y2h] (vp1) -- (trab1);
\draw[y2h] (vp1.north) |- (vp2.east);
\draw[bind] (vp1.west) -| (1678,498) -- (lea3.west);
\draw[act] (vp1.west) -| (1687,481) -- (wsi18.west);
\draw[y2h] (gf14c.east) -| (1982,498) -- (lea3.east);
\draw[y2hd] (gf14a.east) .. controls (1700,270) and (1790,330) .. (trab1.north);
\draw[y2h] (gf14a.east) -- (vp1.north west);
\draw[y2h] (zip.north) -- (1744,150) -- (vp2.north);
\draw[act] (idef1) -- (ysl2);
\draw[act,densely dotted] (idef1) -- (nas1);
\draw[act] (idef1) -- (irt1);
\draw[act] (idef1.west) -| (2062,540) -- (iro2.north);
\draw[act,densely dotted] (idef2) -- (ubi.west);
\draw[act] (iro2) -- (nac4);
\draw[act] (iro2) -- (ap2);
\draw[act] (iro2) -- (idi2.east);
\draw[bind] (dmas1.north west) rectangle (ysl15.south east);

% gene basket
\draw[act] ([xshift=-5pt]bzip.north) to[out=90,in=90,looseness=3] ([xshift=5pt]bzip.north);
\draw[coexp] (sci2) -- (wrky55);
\draw[coexp] (wrky55) -- (pbz1);
\draw[coexp] (wrky55) -- (iaa4);
\draw[coexp] (wrky55) -- (crl1);
\draw[bind] (iaa4) -- (iaa1);
\draw[bind] (iaa1) -- (iaa9);
\draw[bind] (iaa1) -- (arf1);
\draw[act] ([xshift=-3pt]iaa1.north) to[out=90,in=90,looseness=3] ([xshift=3pt]iaa1.north);
\draw[bind] (wrky51) -- (wrky71);
\draw[bind] (wrky71) -- (amy2a);
\draw[act] (gamyb) -- (amy2a);
\draw[inh] (gm1) -- (gm2);
\draw[bind] (cycd2) -- (krp3);
\draw[bind] (krp3) -- (cdka2);
\end{pgfonlayer}
\end{tikzpicture}
\end{document}
